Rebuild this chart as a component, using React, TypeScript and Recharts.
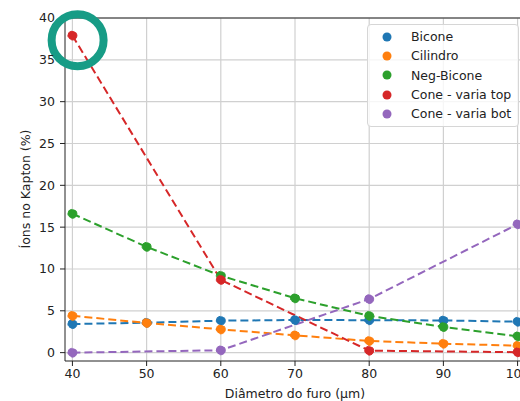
import { CartesianGrid, Line, LineChart, ReferenceDot, ReferenceLine, XAxis, YAxis } from "recharts";

const diameters = [40, 50, 60, 70, 80, 90, 100];
const bicone = [3.42, 3.58, 3.82, 3.9, 3.88, 3.85, 3.7];
const cilindro = [4.4, 3.55, 2.78, 2.07, 1.4, 1.07, 0.83];
const negBicone = [16.6, 12.65, 9.2, 6.5, 4.4, 3.07, 1.95];
const coneTop = [37.9, null, 8.7, null, 0.24, null, 0.05];
const coneBot = [0.0, null, 0.28, null, 6.4, null, 15.35];
const yTicks = [0, 5, 10, 15, 20, 25, 30, 35, 40];

const series = [
  { key: "bicone", name: "Bicone", color: "#1f77b4" },
  { key: "cilindro", name: "Cilindro", color: "#ff7f0e" },
  { key: "negBicone", name: "Neg-Bicone", color: "#2ca02c" },
  { key: "coneTop", name: "Cone - varia top", color: "#d62728" },
  { key: "coneBot", name: "Cone - varia bot", color: "#9467bd" },
];

const data = diameters.map((d, i) => ({
  d,
  bicone: bicone[i],
  cilindro: cilindro[i],
  negBicone: negBicone[i],
  coneTop: coneTop[i],
  coneBot: coneBot[i],
}));

const FONT = "DejaVu Sans, sans-serif";
const INK = "#222";
const FS = 12.5;

// legend drawn as an overlay so it doesn't eat into the plot area
function LegendBox() {
  return (
    <div
      style={{
        position: "absolute",
        left: 367,
        top: 24,
        width: 150,
        border: "1px solid #d6d6d6",
        borderRadius: 4,
        background: "rgba(255,255,255,0.8)",
        padding: "2px 0 3px 0",
        fontFamily: FONT,
        fontSize: FS,
        color: INK,
      }}
    >
      {series.map((s) => (
        <div key={s.key} style={{ display: "flex", alignItems: "center", height: 19.3 }}>
          <svg width={43} height={12}>
            <circle cx={19} cy={6} r={4.5} fill={s.color} />
          </svg>
          <span>{s.name}</span>
        </div>
      ))}
    </div>
  );
}

function YLabel() {
  return (
    <text x={25} y={189} transform="rotate(-90 25 189)" textAnchor="middle" dominantBaseline="central" fontSize={FS} fill={INK} fontFamily={FONT}>
      Íons no Kapton (%)
    </text>
  );
}

export default function App() {
  return (
    <div style={{ position: "fixed", left: 0, top: 0, width: 520, height: 401, overflow: "hidden", background: "#fff" }}>
      <LineChart width={540} height={401} data={data} margin={{ top: 18, right: 15, bottom: 0, left: 0 }} style={{ fontFamily: FONT }}>
        <CartesianGrid stroke="#d0d0d0" strokeWidth={1.2} verticalValues={diameters} horizontalValues={yTicks} />
        <XAxis
          dataKey="d"
          type="number"
          domain={[39, 101]}
          ticks={diameters}
          height={40}
          stroke={INK}
          tick={{ fill: INK, fontSize: FS }}
          tickSize={5}
          tickMargin={3}
          allowDataOverflow
          label={{ value: "Diâmetro do furo (µm)", position: "insideBottom", offset: 3, fill: INK, fontSize: FS }}
        />
        <YAxis
          type="number"
          domain={[-1, 40]}
          ticks={yTicks}
          width={65}
          stroke={INK}
          tick={{ fill: INK, fontSize: FS }}
          tickSize={5}
          tickMargin={5}
          allowDataOverflow
          label={<YLabel />}
        />
        <ReferenceLine y={40} stroke={INK} strokeWidth={1} />
        {series.map((s) => (
          <Line
            key={s.key}
            dataKey={s.key}
            name={s.name}
            stroke={s.color}
            strokeWidth={2}
            strokeDasharray="8 4"
            connectNulls
            dot={{ r: 4.5, fill: s.color, stroke: s.color, strokeWidth: 1 }}
            activeDot={false}
            isAnimationActive={false}
          />
        ))}
        <ReferenceDot x={40.7} y={37.35} r={26} fill="none" stroke="#179c86" strokeWidth={8} ifOverflow="visible" />
      </LineChart>
      <LegendBox />
    </div>
  );
}
